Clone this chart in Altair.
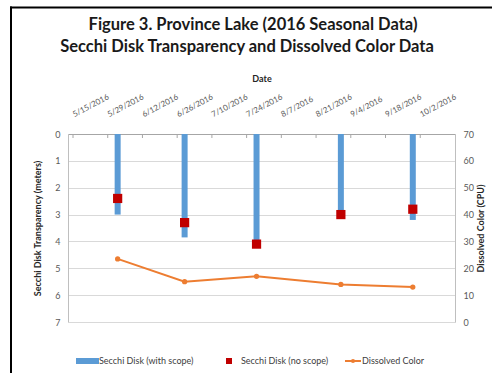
import altair as alt
import pandas as pd

# Sampling dates and measurements
sample_dates = ["2016-06-02", "2016-06-29", "2016-07-28", "2016-08-31", "2016-09-29"]
scope_depth = [3.0, 3.85, 4.2, 3.1, 3.2]        # Secchi disk with scope (m)
noscope_depth = [2.4, 3.3, 4.1, 3.0, 2.8]       # Secchi disk without scope (m)
color_cpu = [23.5, 15, 17, 14, 13]              # dissolved color (CPU)

# Axis tick dates (every 14 days)
tick_dates = ["2016-05-15", "2016-05-29", "2016-06-12", "2016-06-26", "2016-07-10",
              "2016-07-24", "2016-08-07", "2016-08-21", "2016-09-04", "2016-09-18",
              "2016-10-02"]
depth_ticks = [0, 1, 2, 3, 4, 5, 6, 7]
cpu_ticks = [0, 10, 20, 30, 40, 50, 60, 70]

title_lines = ["Figure 3. Province Lake (2016 Seasonal Data)",
               "Secchi Disk Transparency and Dissolved Color Data"]
legend_labels = ["Secchi Disk (with scope)", "Secchi Disk (no scope)", "Dissolved Color"]

FONT = "Lato"
BLUE = "#5B9BD5"
RED = "#C00000"
ORANGE = "#ED7D31"
LABEL = "#595959"


def dt(s):
    y, m, d = (int(p) for p in s.split("-"))
    return alt.DateTime(year=y, month=m, date=d, utc=True)


df = pd.DataFrame({
    "date": sample_dates,
    "scope": scope_depth,
    "noscope": noscope_depth,
    "cpu": color_cpu,
})
ticks_df = pd.DataFrame({"date": tick_dates})

x_scale = alt.Scale(type="utc", domain=[dt("2016-05-15"), dt("2016-10-14")])
x_axis = alt.Axis(
    orient="top", title="Date", values=[dt(s) for s in tick_dates],
    labelExpr="utcFormat(datum.value, '%-m/%-d/%Y')", labelAngle=-28,
    labelAlign="left", labelBaseline="middle", labelPadding=19,
    labelOverlap=False, labelBound=False, labelFlush=False,
    labelFontSize=8, labelColor=LABEL, labelFont=FONT,
    ticks=False, grid=False, domainColor="#a6a6a6",
    titleFontSize=9, titleFontWeight="bold", titleFont=FONT,
    titleColor="#262626", titlePadding=9,
)
x_enc = alt.X("date:T", scale=x_scale, axis=x_axis)

depth_scale = alt.Scale(domain=[0, 7], reverse=True, nice=False)
depth_axis = alt.Axis(
    values=depth_ticks, title="Secchi Disk Transparency (meters)",
    grid=True, gridColor="#d9d9d9", ticks=False, domainColor="#bfbfbf",
    labelFontSize=9, labelColor=LABEL, labelFont=FONT, labelPadding=8,
    titleFontSize=9, titleFontWeight="bold", titleFont=FONT,
    titleColor="#262626", titlePadding=12,
)

bars = alt.Chart(df).mark_bar(color=BLUE, size=6).encode(
    x=x_enc,
    y=alt.Y("scope:Q", scale=depth_scale, axis=depth_axis),
)
squares = alt.Chart(df).mark_square(color=RED, size=85, opacity=1).encode(
    x=x_enc,
    y=alt.Y("noscope:Q", scale=depth_scale, axis=depth_axis),
)
# small inward tick marks along the date axis
date_ticks = alt.Chart(ticks_df).mark_rule(color="#a6a6a6", strokeWidth=1).encode(
    x=x_enc,
    y=alt.value(0),
    y2=alt.value(4),
)

color_line = alt.Chart(df).mark_line(
    color=ORANGE, strokeWidth=2,
    point=alt.OverlayMarkDef(color=ORANGE, size=28, filled=True),
).encode(
    x=x_enc,
    y=alt.Y(
        "cpu:Q",
        scale=alt.Scale(domain=[0, 70], nice=False),
        axis=alt.Axis(
            orient="right", values=cpu_ticks, title="Dissolved Color (CPU)",
            grid=False, ticks=False, domainColor="#bfbfbf",
            labelFontSize=9, labelColor=LABEL, labelFont=FONT, labelPadding=8,
            titleFontSize=9, titleFontWeight="bold", titleFont=FONT,
            titleColor="#262626", titlePadding=12, titleAngle=270,
        ),
    ),
)

# chart title
title_df = pd.DataFrame({"t": title_lines})
title_style = dict(font=FONT, fontSize=16.5, fontWeight="bold", color="#1a1a1a",
                   align="center", baseline="middle")
title1 = alt.Chart(title_df.iloc[[0]]).mark_text(**title_style).encode(
    x=alt.value(185), y=alt.value(-109), text="t:N")
title2 = alt.Chart(title_df.iloc[[1]]).mark_text(**title_style).encode(
    x=alt.value(179), y=alt.value(-87), text="t:N")

# legend
leg_df = pd.DataFrame({"t": legend_labels})
leg_style = dict(font=FONT, fontSize=9, color="#404040", align="left", baseline="middle")
leg_y = 227
leg_box = alt.Chart(leg_df.iloc[[0]]).mark_rect(color=BLUE).encode(
    x=alt.value(8), x2=alt.value(31), y=alt.value(leg_y - 3), y2=alt.value(leg_y + 3))
leg_t1 = alt.Chart(leg_df.iloc[[0]]).mark_text(**leg_style).encode(
    x=alt.value(31), y=alt.value(leg_y), text="t:N")
leg_sq = alt.Chart(leg_df.iloc[[1]]).mark_square(color=RED, size=36, opacity=1).encode(
    x=alt.value(161), y=alt.value(leg_y))
leg_t2 = alt.Chart(leg_df.iloc[[1]]).mark_text(**leg_style).encode(
    x=alt.value(173), y=alt.value(leg_y), text="t:N")
leg_ln = alt.Chart(leg_df.iloc[[2]]).mark_rule(color=ORANGE, strokeWidth=2).encode(
    x=alt.value(277), x2=alt.value(293), y=alt.value(leg_y))
leg_pt = alt.Chart(leg_df.iloc[[2]]).mark_circle(color=ORANGE, size=18, opacity=1).encode(
    x=alt.value(285), y=alt.value(leg_y))
leg_t3 = alt.Chart(leg_df.iloc[[2]]).mark_text(**leg_style).encode(
    x=alt.value(294), y=alt.value(leg_y), text="t:N")

# black frame along the left and top edges
frame_left = alt.Chart(leg_df.iloc[[0]]).mark_rule(color="black", strokeWidth=2).encode(
    x=alt.value(-57), y=alt.value(-127.5), y2=alt.value(260))
frame_top = alt.Chart(leg_df.iloc[[0]]).mark_rule(color="black", strokeWidth=2).encode(
    x=alt.value(-58), x2=alt.value(440), y=alt.value(-126.5))

depth_layer = alt.layer(bars, squares, date_ticks)
main = alt.layer(depth_layer, color_line).resolve_scale(y="independent")

chart = alt.layer(
    main, title1, title2, leg_box, leg_t1, leg_sq, leg_t2, leg_ln, leg_pt, leg_t3,
    frame_left, frame_top,
).properties(
    width=387, height=188,
    padding={"left": 68, "top": 134, "right": 37, "bottom": 51},
    autosize=alt.AutoSizeParams(type="none"),
    background="white",
).configure_view(stroke=None)

chart.save("out.html", embed_options={"renderer": "svg", "actions": False})
